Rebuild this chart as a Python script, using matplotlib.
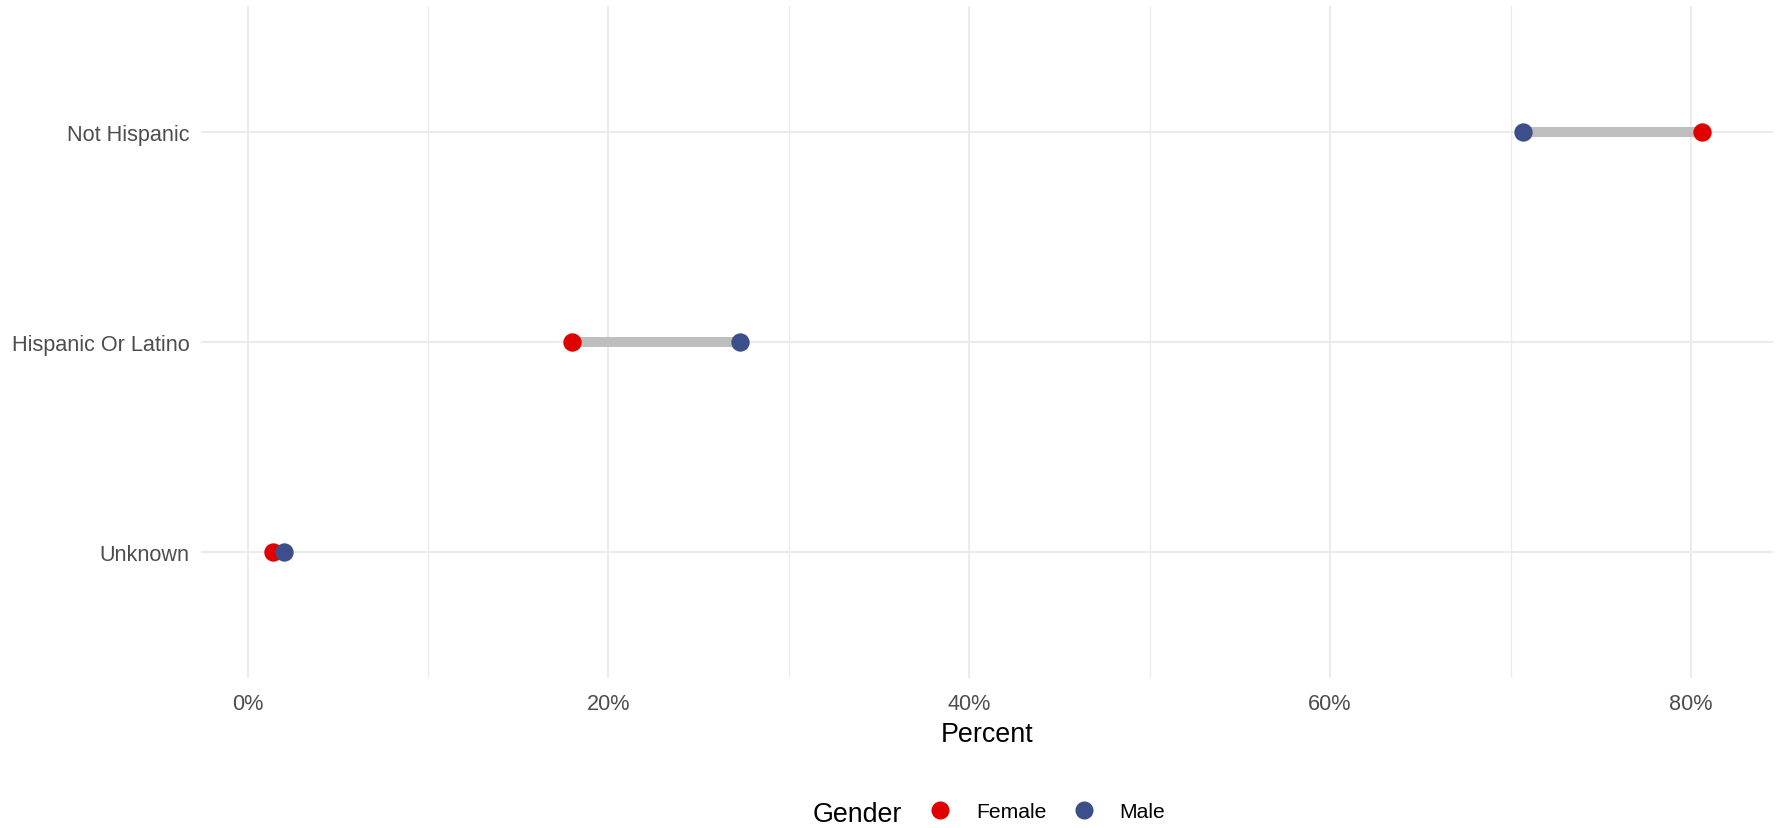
import matplotlib
matplotlib.use("Agg")
import matplotlib.pyplot as plt
from matplotlib.lines import Line2D
from matplotlib.ticker import FuncFormatter, MultipleLocator

plt.rcParams['font.family'] = ['Liberation Sans', 'DejaVu Sans']

# ---- data ----
categories = ["Unknown", "Hispanic Or Latino", "Not Hispanic"]
female_pct = [1.4, 18.0, 80.6]
male_pct = [2.0, 27.3, 70.7]
genders = ["Female", "Male"]
gender_colors = {"Female": "#E00000", "Male": "#3D4F8B"}
x_ticks = [0, 20, 40, 60, 80]
x_title = "Percent"
legend_title = "Gender"

W, H = 1781, 829
fig = plt.figure(figsize=(W / 100, H / 100), dpi=100)
left, right, top, bottom = 201.5, 1773.2, 6.7, 678.7
ax = fig.add_axes([left / W, 1 - bottom / H, (right - left) / W, (bottom - top) / H])

ypos = list(range(len(categories)))

# segments
for y, f, m in zip(ypos, female_pct, male_pct):
    ax.plot([f, m], [y, y], color="#BEBEBE", lw=7.2, solid_capstyle="butt", zorder=2)

ax.scatter(female_pct, ypos, s=175, color=gender_colors["Female"], zorder=3, linewidths=0)
ax.scatter(male_pct, ypos, s=175, color=gender_colors["Male"], zorder=4, linewidths=0)

lo = min(min(female_pct), min(male_pct))
hi = max(max(female_pct), max(male_pct))
rng = hi - lo
ax.set_xlim(lo - 0.05 * rng, hi + 0.05 * rng)
ax.set_ylim(-0.6, len(categories) - 1 + 0.6)

ax.set_yticks(ypos)
ax.set_yticklabels(categories)
ax.set_xticks(x_ticks)
ax.xaxis.set_major_formatter(FuncFormatter(lambda v, p: f"{v:.0f}%"))
ax.xaxis.set_minor_locator(MultipleLocator(10))

ax.grid(which="major", color="#EBEBEB", lw=1.5, zorder=0)
ax.grid(which="minor", axis="x", color="#EBEBEB", lw=0.9, zorder=0)
ax.set_axisbelow(True)
for s in ax.spines.values():
    s.set_visible(False)

ax.tick_params(axis="both", which="both", length=0, labelsize=15.6, labelcolor="#4D4D4D")
ax.tick_params(axis="y", pad=8.5)
ax.tick_params(axis="x", pad=11)
ax.set_xlabel(x_title, fontsize=19.4, color="black", labelpad=5.4)

# legend
handles = [Line2D([], [], marker="o", linestyle="none", markersize=13,
                  markerfacecolor=gender_colors[g], markeredgewidth=0) for g in genders]
fig.legend(handles, genders, loc="center left",
           bbox_to_anchor=(929.5 / W, (H - 812.7) / H),
           ncol=2, frameon=False, fontsize=15.2, handlelength=1.0,
           handletextpad=1.2, columnspacing=1.27, borderpad=0, borderaxespad=0)
fig.text(813 / W, (H - 821.7) / H, legend_title, fontsize=19.3, va="baseline", ha="left")

fig.savefig("out.png", dpi=100, facecolor="white")
